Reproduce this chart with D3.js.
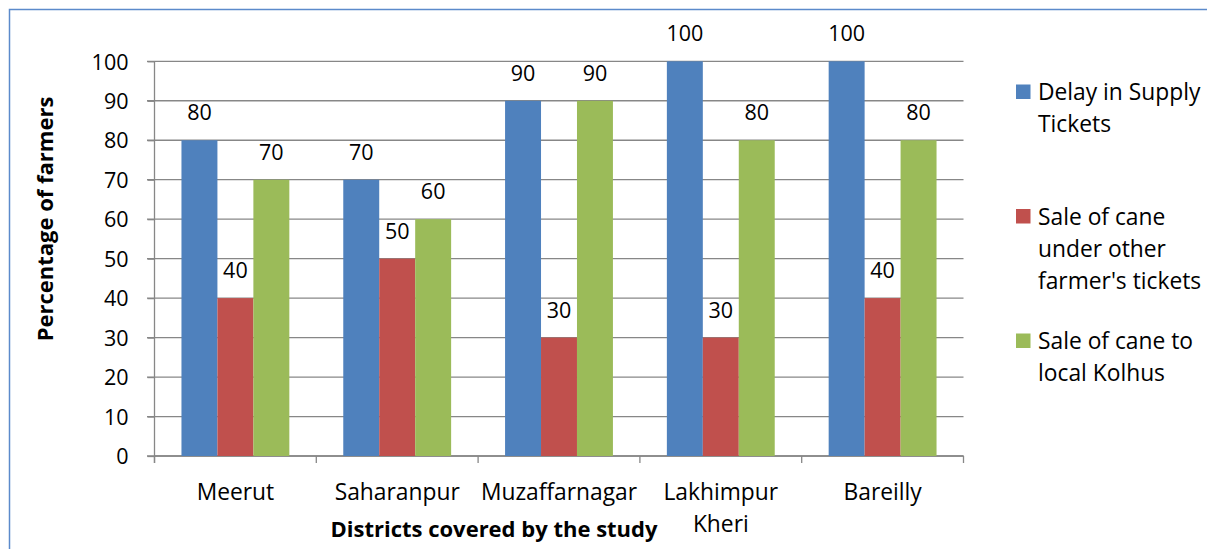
<!DOCTYPE html>
<html>
<head>
<meta charset="utf-8">
<script src="https://cdn.jsdelivr.net/npm/d3@7"></script>
<style>
html,body{margin:0;padding:0;background:#fff;}
text{font-family:"Open Sans",Lato,sans-serif;fill:#000;}
</style>
</head>
<body>
<svg id="chart" width="1207" height="549"></svg>
<script>
const categories = ["Meerut","Saharanpur","Muzaffarnagar","Lakhimpur Kheri","Bareilly"];
const seriesNames = ["Delay in Supply Tickets","Sale of cane under other farmer's tickets","Sale of cane to local Kolhus"];
const legendLines = [["Delay in Supply","Tickets"],["Sale of cane","under other","farmer's tickets"],["Sale of cane to","local Kolhus"]];
const delayValues = [80,70,90,100,100];
const otherTicketValues = [40,50,30,30,40];
const kolhuValues = [70,60,90,80,80];
const yTicks = [0,10,20,30,40,50,60,70,80,90,100];
const colors = ["#4F81BD","#C0504D","#9BBB59"];
const yTitle = "Percentage of farmers";
const xTitle = "Districts covered by the study";

const seriesValues = [delayValues, otherTicketValues, kolhuValues];
const svg = d3.select("#chart");
const FONT = "'Open Sans', Lato, sans-serif";
const FS = 21.5;   // digits
const FSW = 22.8;  // words

// outer border
svg.append("rect").attr("x",9.5).attr("y",9.5).attr("width",1250).attr("height",600)
  .attr("fill","none").attr("stroke","#5B8ACB").attr("stroke-width",1.5);

const plotLeft = 154.5, plotRight = 963.5, plotTop = 61.3, plotBottom = 456;
const x = d3.scaleBand().domain(categories).range([plotLeft,plotRight]).paddingInner(0).paddingOuter(0);
const x1 = d3.scaleBand().domain(d3.range(3)).range([0,x.bandwidth()]).paddingInner(0).paddingOuter(0.75);
const y = d3.scaleLinear().domain([0,100]).range([plotBottom,plotTop]);

// gridlines
const grid = svg.append("g");
grid.selectAll("line").data(yTicks).join("line")
  .attr("x1",plotLeft-7.5).attr("x2",plotRight).attr("y1",d=>y(d)).attr("y2",d=>y(d))
  .attr("stroke","#878787").attr("stroke-width",1.3);

// y axis
const yAxis = d3.axisLeft(y).tickValues(yTicks).tickSize(7).tickPadding(19);
const ya = svg.append("g").attr("transform",`translate(${plotLeft},0)`).call(yAxis);
ya.select(".domain").attr("stroke","#878787").attr("stroke-width",1.3).attr("d",`M0,${plotTop}V${plotBottom+7}`);
ya.selectAll(".tick line").attr("stroke","#878787").attr("stroke-width",1.3);
ya.selectAll(".tick text").attr("font-family",FONT).attr("font-size",FS).attr("fill","#000").attr("dy","0.36em");

// x axis
const xa = svg.append("g").attr("transform",`translate(0,${plotBottom})`);
xa.append("line").attr("x1",plotLeft).attr("x2",plotRight).attr("y1",0).attr("y2",0).attr("stroke","#878787").attr("stroke-width",1.3);
const boundaries = categories.map(c=>x(c)).concat([x(categories[categories.length-1])+x.bandwidth()]);
xa.selectAll("line.tk").data(boundaries).join("line").attr("class","tk")
  .attr("x1",d=>d).attr("x2",d=>d).attr("y1",0).attr("y2",7)
  .attr("stroke","#878787").attr("stroke-width",1.3);

// category labels with wrapping
categories.forEach(c=>{
  const cx = x(c)+x.bandwidth()/2;
  const t = svg.append("text").attr("text-anchor","middle").attr("font-size",FSW)
    .attr("x",cx).attr("y",500);
  const words = c.split(" ");
  let line = [];
  let ts = t.append("tspan").attr("x",cx).attr("dy",0);
  words.forEach(w=>{
    line.push(w);
    ts.text(line.join(" "));
    if (ts.node().getComputedTextLength() > x.bandwidth()-4 && line.length>1){
      line.pop(); ts.text(line.join(" "));
      line=[w];
      ts = t.append("tspan").attr("x",cx).attr("dy",32).text(w);
    }
  });
});

// bars
const groups = svg.append("g").selectAll("g").data(categories).join("g")
  .attr("transform",c=>`translate(${x(c)},0)`);
groups.each(function(c,ci){
  const g = d3.select(this);
  seriesValues.forEach((vals,si)=>{
    const v = vals[ci];
    g.append("rect").attr("x",x1(si)).attr("width",x1.bandwidth())
      .attr("y",y(v)).attr("height",y(0)-y(v)).attr("fill",colors[si]);
    g.append("text").attr("text-anchor","middle").attr("font-size",FS)
      .attr("x",x1(si)+x1.bandwidth()/2).attr("y",y(v)-20).text(v);
  });
});

// axis titles
svg.append("text").attr("text-anchor","middle").attr("font-weight","bold").attr("font-size",22)
  .attr("transform","translate(53,219) rotate(-90)").text(yTitle);
svg.append("text").attr("text-anchor","middle").attr("font-weight","bold").attr("font-size",22)
  .attr("x",494).attr("y",537).text(xTitle);

// legend
const lg = svg.append("g");
legendLines.forEach((lines,i)=>{
  const cy = 92 + i*124.5;
  lg.append("rect").attr("x",1016).attr("y",cy-7.5).attr("width",14.5).attr("height",14.5).attr("fill",colors[i]);
  const t = lg.append("text").attr("font-size",FSW).attr("x",1038).attr("y",cy+8);
  lines.forEach((l,k)=>t.append("tspan").attr("x",1038).attr("dy",k?32.3:0).text(l));
});
</script>
</body>
</html>
